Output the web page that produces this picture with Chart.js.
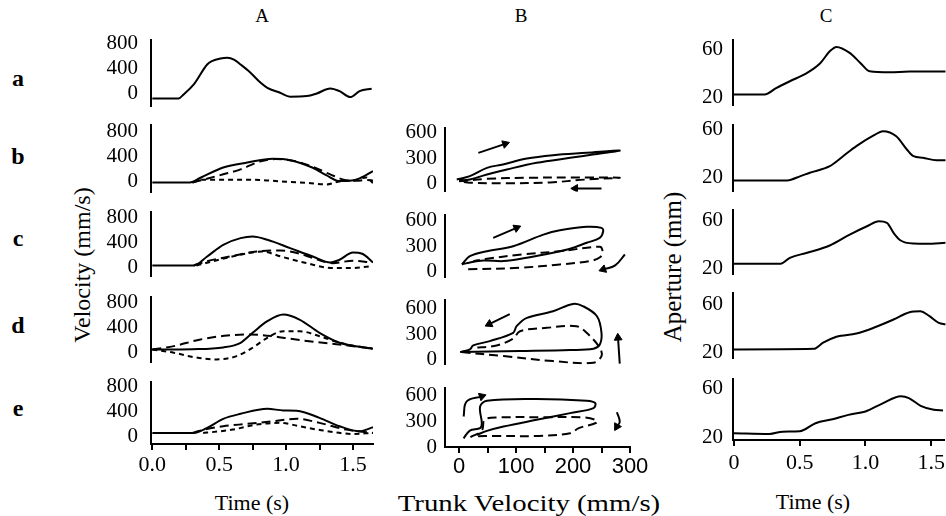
<!DOCTYPE html>
<html>
<head>
<meta charset="utf-8">
<script src="https://cdn.jsdelivr.net/npm/chart.js@4.4.0/dist/chart.umd.min.js"></script>
<style>
body{margin:0;background:#fff;width:946px;height:516px;overflow:hidden;position:relative;font-family:"Liberation Serif",serif;color:#000;}
canvas{position:absolute;}
.t{position:absolute;white-space:nowrap;line-height:1;transform:translate(-50%,-50%);}
.row{font-weight:bold;font-size:24px;}
.col{font-size:19px;}
</style>
</head>
<body>
<div class="t col" style="left:262px;top:15px">A</div>
<div class="t col" style="left:521px;top:15px">B</div>
<div class="t col" style="left:826px;top:15px">C</div>
<div class="t row" style="left:18px;top:78px">a</div>
<div class="t row" style="left:18px;top:156px">b</div>
<div class="t row" style="left:18px;top:238px">c</div>
<div class="t row" style="left:18px;top:325px">d</div>
<div class="t row" style="left:18px;top:408px">e</div>
<div class="t" style="font-size:24px;left:82px;top:265px;transform:translate(-50%,-50%) rotate(-90deg)">Velocity (mm/s)</div>
<div class="t" style="font-size:25px;left:672px;top:267px;transform:translate(-50%,-50%) rotate(-90deg)">Aperture (mm)</div>
<div class="t" style="font-size:22px;left:252px;top:503px">Time (s)</div>
<div class="t" style="font-size:24px;left:529px;top:503px;transform:translate(-50%,-50%) scaleX(1.2)">Trunk Velocity (mm/s)</div>
<div class="t" style="font-size:22px;left:813px;top:502px">Time (s)</div>
<script>
// tick values
const velTicks = [0, 400, 800];
const handTicks = [0, 300, 600];
const apertureTicks = [20, 60];
const timeTicksA = [0, 0.25, 0.5, 0.75, 1.0, 1.25, 1.5];
const trunkTicks = [0, 50, 100, 150, 200, 250, 300];
const timeTicksC = [0, 0.5, 1.0, 1.5];

// column A: hand velocity (mm/s) vs time (s)
const velA_a = [[0,0],[0.196,0],[0.234,64],[0.31,224],[0.41,544],[0.445,597],[0.51,640],[0.56,651],[0.61,624],[0.66,544],[0.73,421],[0.81,251],[0.86,171],[0.955,91],[1.03,27],[1.155,37],[1.23,80],[1.33,160],[1.40,117],[1.48,21],[1.55,117],[1.64,155]];
const velA_b_solid = [[0,0],[0.28,0],[0.36,75],[0.53,240],[0.71,320],[0.90,380],[1.03,357],[1.20,235],[1.30,117],[1.40,21],[1.53,48],[1.65,181]];
const velA_b_long = [[0.30,0],[0.40,55],[0.53,130],[0.66,210],[0.81,340],[0.92,375],[1.05,350],[1.20,250],[1.33,130],[1.43,45],[1.52,25],[1.60,40],[1.65,30]];
const velA_b_short = [[0.30,0],[0.38,45],[0.55,45],[0.80,40],[1.0,10],[1.15,-5],[1.30,-32],[1.40,15],[1.52,40],[1.60,80],[1.65,-10]];
const velA_c_solid = [[0,0],[0.31,0],[0.41,144],[0.53,331],[0.66,438],[0.75,464],[0.86,411],[1.03,278],[1.20,144],[1.33,48],[1.40,91],[1.50,208],[1.57,187],[1.65,48]];
const velA_c_long = [[0.31,0],[0.40,64],[0.58,144],[0.78,224],[0.96,240],[1.10,190],[1.20,118],[1.35,37],[1.50,77],[1.63,48]];
const velA_c_short = [[0.33,0],[0.40,38],[0.56,123],[0.73,203],[0.82,224],[0.96,144],[1.15,38],[1.35,-42],[1.50,-42],[1.62,-16]];
const velA_d_solid = [[0,0],[0.30,5],[0.53,32],[0.66,107],[0.75,267],[0.86,453],[0.98,560],[1.10,480],[1.25,267],[1.40,107],[1.55,43],[1.65,11]];
const velA_d_long = [[0,0],[0.16,53],[0.36,160],[0.56,224],[0.73,240],[0.90,213],[1.03,171],[1.23,117],[1.40,80],[1.65,11]];
const velA_d_short = [[0,0],[0.16,-53],[0.31,-123],[0.48,-160],[0.63,-107],[0.75,27],[0.86,187],[0.98,293],[1.10,293],[1.25,213],[1.40,107],[1.55,43],[1.65,11]];
const velA_e_solid = [[0,0],[0.31,0],[0.41,80],[0.53,224],[0.66,304],[0.86,384],[0.98,357],[1.08,352],[1.25,240],[1.40,106],[1.55,26],[1.65,90]];
const velA_e_long = [[0.30,0],[0.34,27],[0.53,106],[0.71,144],[0.90,186],[1.08,224],[1.25,160],[1.45,53],[1.65,0]];
const velA_e_short = [[0.38,0],[0.41,5],[0.60,53],[0.78,133],[0.96,160],[1.10,106],[1.28,37],[1.50,-16],[1.65,0]];

// column B: hand velocity vs trunk velocity (mm/s), [trunk, hand]
const phaseB_b_solid = [[-4,47],[19,86],[49,184],[77,224],[119,294],[165,333],[224,361],[282,388],[235,341],[195,302],[136,243],[84,165],[49,106],[19,47],[0,35]];
const phaseB_b_dash = [[0,25],[50,55],[120,67],[200,70],[282,68],[220,45],[160,12],[80,2],[20,8],[0,25]];
const phaseB_b_arrow1 = [[34,361],[81,467]];
const phaseB_b_arrow2 = [[250,-59],[204,-59]];
const phaseB_c_solid = [[5,82],[19,180],[49,239],[95,298],[148,435],[177,486],[224,526],[250,514],[253,475],[247,396],[224,338],[195,267],[165,220],[119,161],[78,122],[43,129],[15,100],[5,82]];
const phaseB_c_dash = [[16,24],[107,43],[177,82],[230,122],[248,170],[252,230],[247,290],[180,240],[110,200],[49,149],[25,120]];
const phaseB_c_arrow1 = [[60,396],[101,514]];
const phaseB_c_arrow2 = [[291,200],[274,71],[253,24]];
const phaseB_d_solid = [[2,86],[107,98],[195,110],[236,126],[247,176],[250,314],[242,510],[218,627],[200,655],[165,568],[119,490],[101,392],[95,314],[54,216],[25,165],[19,118],[2,86]];
const phaseB_d_dash = [[4,86],[78,39],[165,-20],[236,-39],[250,39],[247,137],[224,314],[206,392],[154,373],[107,333],[95,245],[66,165],[25,137]];
const phaseB_d_arrow1 = [[89,535],[53,417]];
const phaseB_d_arrow2 = [[282,-50],[279,255]];
const phaseB_e_solid = [[8,102],[19,192],[37,220],[40,278],[37,474],[49,541],[136,561],[224,541],[239,514],[236,455],[195,396],[136,318],[78,239],[49,188],[31,141]];
const phaseB_e_dash = [[20,115],[40,190],[45,320],[70,345],[150,348],[220,345],[242,310],[240,280],[210,220],[195,160],[140,129],[60,129],[30,125]];
const phaseB_e_arrow1 = [[8,357],[13.5,533],[40,592]];
const phaseB_e_arrow2 = [[277,407],[282,296],[277,238]];

// column C: aperture (mm) vs time (s)
const apC_a = [[0,20.8],[0.23,20.8],[0.32,26.4],[0.42,31.9],[0.55,38.9],[0.65,47.2],[0.72,56.9],[0.77,60.6],[0.87,55.6],[0.95,47.2],[1.02,40.2],[1.17,39.4],[1.32,40],[1.59,40]];
const apC_b = [[0,19.2],[0.40,19.2],[0.50,22.8],[0.57,25.6],[0.72,31.1],[0.82,39.4],[0.92,47.8],[1.05,56.7],[1.12,60.3],[1.22,56.1],[1.30,45],[1.35,39.4],[1.42,38.1],[1.52,36.1],[1.59,36.1]];
const apC_c = [[0,21.4],[0.35,21.4],[0.42,26.4],[0.55,30.6],[0.72,36.7],[0.87,45.8],[1.0,52.8],[1.09,56.9],[1.15,55.6],[1.20,47.2],[1.25,41.1],[1.35,38.3],[1.45,38.1],[1.59,39]];
const apC_d = [[0,20],[0.60,20.5],[0.67,25.6],[0.77,30.6],[0.92,33.3],[1.05,38.1],[1.20,45],[1.32,51.1],[1.40,51.9],[1.47,47.8],[1.54,42.2],[1.59,40.8]];
const apC_e = [[0,25.6],[0.27,25],[0.37,26.9],[0.50,27.2],[0.62,33.9],[0.75,37.2],[0.87,40.8],[1.0,43.6],[1.12,49.7],[1.27,56.1],[1.33,54.7],[1.42,48.3],[1.52,45],[1.59,44.4]];

const SERIF = '"Liberation Serif", "Times New Roman", serif';
const SANS = '"Liberation Sans", Arial, sans-serif';

function xy(arr){ return arr.map(p => ({x: p[0], y: p[1]})); }

function line(arr, dash, mono){
  return {data: xy(arr), borderColor:'#000', borderWidth:2, borderDash:dash, pointRadius:0, fill:false,
    cubicInterpolationMode: mono ? 'monotone' : 'default', tension: mono ? 0 : 0.35};
}
const solid = (a, m) => line(a, [], m);
const longDash = (a, m) => line(a, [9,5], m);
const shortDash = (a, m) => line(a, [5,4], m);

function headAngle(ctx){
  const d = ctx.dataset.data, i = ctx.dataIndex;
  if(i === 0) return 0;
  const sx = ctx.chart.scales.x, sy = ctx.chart.scales.y;
  const dx = sx.getPixelForValue(d[i].x) - sx.getPixelForValue(d[i-1].x);
  const dy = sy.getPixelForValue(d[i].y) - sy.getPixelForValue(d[i-1].y);
  return Math.atan2(dx, -dy) * 180 / Math.PI;
}
function arrow(arr){
  return {data: xy(arr), borderColor:'#000', borderWidth:2, borderDash:[], tension:0.4, fill:false,
    pointRadius: c => c.dataIndex === arr.length-1 ? 4.5 : 0,
    pointStyle:'triangle', pointRotation: headAngle,
    pointBackgroundColor:'#000', pointBorderColor:'#000', pointBorderWidth:1};
}

const labA = v => Math.abs(v*2 - Math.round(v*2)) < 1e-6 ? v.toFixed(1) : '';
const labB = v => v % 100 === 0 ? String(v) : '';
const labC = v => v === 0 ? '0' : v.toFixed(1);

function config(p){
  const xH = p.xTicks ? 40 : 0;
  return {
    type: 'line',
    data: {datasets: p.sets},
    options: {
      responsive:false, maintainAspectRatio:false, animation:false, events:[],
      layout:{padding:{top:2, right:p.padR || 4, bottom:2, left:0}},
      plugins:{legend:{display:false}, tooltip:{enabled:false}},
      scales:{
        x:{type:'linear', position:'bottom', min:p.x[0], max:p.x[1], display: !!p.xTicks,
          afterBuildTicks: s => { if(p.xTicks) s.ticks = p.xTicks.map(v => ({value:v})); },
          afterFit: s => { s.height = xH; },
          grid:{drawOnChartArea:false, drawTicks:true, tickLength:6, color:'#000', lineWidth:2},
          border:{display:true, color:'#000', width:2},
          ticks:{color:'#000', autoSkip:false, maxRotation:0, padding:p.xPad || 2,
            font:{family:p.xFont || SERIF, size:p.xSize || 22}, callback:p.xLab}},
        y:{position:'left', min:p.y[0], max:p.y[1],
          afterBuildTicks: s => { s.ticks = p.yTicks.map(v => ({value:v})); },
          afterFit: s => { s.width = p.yW; },
          grid:{display:false, drawTicks:false},
          border:{display:true, color:'#000', width:2},
          ticks:{color:'#000', autoSkip:false, padding:p.yPad, labelOffset:p.yOff || 0,
            font:{family:SERIF, size:21}}}
      }
    }
  };
}

function setSize(cv, w, h){
  cv.width = w; cv.height = h;
  cv.style.width = w + 'px'; cv.style.height = h + 'px';
}

const panels = {};
// first pass measures how much room the axes take, second pass puts the plot area on p.box
function makePanel(name, p){
  const bw = p.box[2] - p.box[0], bh = p.box[3] - p.box[1];
  const cv = document.createElement('canvas');
  cv.style.zIndex = p.xTicks ? 3 : 1;
  document.body.appendChild(cv);
  let w = p.yW + bw + 40, h = bh + 90;
  setSize(cv, w, h);
  let chart = new Chart(cv, config(p));
  const ca = chart.chartArea;
  const l = ca.left, t = ca.top, r = w - ca.right, b = h - ca.bottom;
  chart.destroy();
  w = Math.round(l + bw + r); h = Math.round(t + bh + b);
  setSize(cv, w, h);
  cv.style.left = (p.box[0] - l) + 'px';
  cv.style.top = (p.box[1] - t) + 'px';
  panels[name] = new Chart(cv, config(p));
}

// column A panels
const ax = [-0.01, 1.65];
makePanel('Aa', {box:[151,40,373,107], x:ax, y:[-128,944], yTicks:velTicks, yW:51, yPad:13, yOff:-5,
  sets:[solid(velA_a,true)]});
makePanel('Ab', {box:[151,125,373,193], x:ax, y:[-160,928], yTicks:velTicks, yW:51, yPad:13, yOff:-1,
  sets:[solid(velA_b_solid,true), longDash(velA_b_long,true), shortDash(velA_b_short,true)]});
makePanel('Ac', {box:[151,212,373,277], x:ax, y:[-176,864], yTicks:velTicks, yW:51, yPad:13, yOff:2,
  sets:[solid(velA_c_solid,true), longDash(velA_c_long,true), shortDash(velA_c_short,true)]});
makePanel('Ad', {box:[151,297,373,363], x:ax, y:[-208,848], yTicks:velTicks, yW:51, yPad:13, yOff:3,
  sets:[solid(velA_d_solid,true), longDash(velA_d_long,true), shortDash(velA_d_short,true)]});
makePanel('Ae', {box:[151,382,373,444], x:ax, y:[-176,816], yTicks:velTicks, yW:51, yPad:13, yOff:4,
  xTicks:timeTicksA, xLab:labA, xPad:2,
  sets:[solid(velA_e_solid,true), longDash(velA_e_long,true), shortDash(velA_e_short,true)]});

// column B panels
const bx = [-24.6, 300];
makePanel('Bb', {box:[445,128,630,192], x:bx, y:[-94,659], yTicks:handTicks, yW:42, yPad:8, padR:22,
  sets:[solid(phaseB_b_solid), longDash(phaseB_b_dash), arrow(phaseB_b_arrow1), arrow(phaseB_b_arrow2)]});
makePanel('Bc', {box:[445,215,630,278], x:bx, y:[-71,671], yTicks:handTicks, yW:42, yPad:8, padR:22,
  sets:[solid(phaseB_c_solid), longDash(phaseB_c_dash), arrow(phaseB_c_arrow1), arrow(phaseB_c_arrow2)]});
makePanel('Bd', {box:[445,300,630,365], x:bx, y:[-59,706], yTicks:handTicks, yW:42, yPad:8, padR:22,
  sets:[solid(phaseB_d_solid), longDash(phaseB_d_dash), arrow(phaseB_d_arrow1), arrow(phaseB_d_arrow2)]});
makePanel('Be', {box:[445,388,630,447], x:bx, y:[0,694], yTicks:handTicks, yW:42, yPad:8, padR:22,
  xTicks:trunkTicks, xLab:labB, xFont:SANS, xSize:22, xPad:1,
  sets:[solid(phaseB_e_solid), longDash(phaseB_e_dash), arrow(phaseB_e_arrow1), arrow(phaseB_e_arrow2)]});

// column C panels
const cx = [-0.0075, 1.594];
makePanel('Ca', {box:[733,40,946,106], x:cx, y:[11.7,66.7], yTicks:apertureTicks, yW:36, yPad:10, yOff:2, padR:1,
  sets:[solid(apC_a,true)]});
makePanel('Cb', {box:[733,125,946,192], x:cx, y:[10,65.8], yTicks:apertureTicks, yW:36, yPad:10, yOff:-2, padR:1,
  sets:[solid(apC_b,true)]});
makePanel('Cc', {box:[733,210,946,275], x:cx, y:[12.5,66.7], yTicks:apertureTicks, yW:36, yPad:10, yOff:3, padR:1,
  sets:[solid(apC_c,true)]});
makePanel('Cd', {box:[733,293,946,359], x:cx, y:[12.5,67.5], yTicks:apertureTicks, yW:36, yPad:10, yOff:3, padR:1,
  sets:[solid(apC_d,true)]});
makePanel('Ce', {box:[733,379,946,440], x:cx, y:[20,70.8], yTicks:apertureTicks, yW:36, yPad:10, yOff:-3, padR:1,
  xTicks:timeTicksC, xLab:labC, xPad:4,
  sets:[solid(apC_e,true)]});
</script>
</body>
</html>
